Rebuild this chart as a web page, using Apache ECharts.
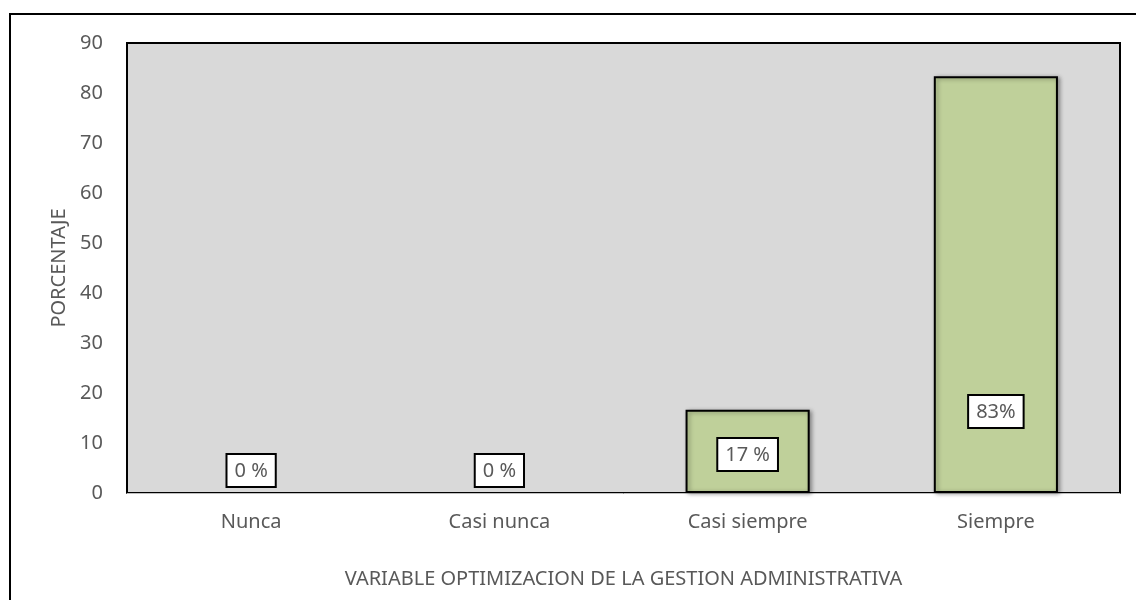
<!DOCTYPE html>
<html>
<head>
<meta charset="utf-8">
<script src="https://cdn.jsdelivr.net/npm/echarts@6/dist/echarts.min.js"></script>
<style>
  html, body { margin: 0; padding: 0; background: #fff; }
  #chart { width: 1136px; height: 600px; }
</style>
</head>
<body>
<div id="chart"></div>
<script>
// categorias y valores (porcentaje)
var categorias = ['Nunca', 'Casi nunca', 'Casi siempre', 'Siempre'];
var valores = [0, 0, 16.67, 83.33];
var etiquetas = ['0 %', '0 %', '17 %', '83%'];
var yTicks = [0, 10, 20, 30, 40, 50, 60, 70, 80, 90];

var fuente = 'Noto Sans';
var gris = '#595959';
var tam = 20;
// distancia de la etiqueta desde la base de la barra
var distEtiqueta = [7, 7, 23, 66];

var myChart = echarts.init(document.getElementById('chart'), null, { renderer: 'canvas' });

var option = {
  animation: false,
  textStyle: { fontFamily: fuente },
  // borde exterior (solo izquierda y arriba)
  graphic: [{
    type: 'polyline',
    shape: { points: [[10, 600], [10, 14], [1136, 14]] },
    style: { stroke: '#000', lineWidth: 2, fill: null }
  }],
  grid: {
    left: 127,
    right: 16,
    top: 43,
    bottom: 107,
    show: true,
    backgroundColor: '#d9d9d9',
    borderColor: '#000',
    borderWidth: 2
  },
  xAxis: {
    type: 'category',
    data: categorias,
    name: 'VARIABLE OPTIMIZACION DE LA GESTION ADMINISTRATIVA',
    nameLocation: 'middle',
    nameGap: 76,
    nameTextStyle: { color: gris, fontSize: tam, fontFamily: fuente },
    axisLine: { lineStyle: { color: '#bfbfbf', width: 1 } },
    axisTick: { show: false },
    axisLabel: { color: gris, fontSize: tam, margin: 19, fontFamily: fuente }
  },
  yAxis: {
    type: 'value',
    min: yTicks[0],
    max: yTicks[yTicks.length - 1],
    interval: 10,
    name: 'PORCENTAJE',
    nameLocation: 'middle',
    nameGap: 58,
    nameTextStyle: { color: gris, fontSize: tam, fontFamily: fuente },
    splitLine: { show: false },
    axisLine: { show: true, lineStyle: { color: '#000', width: 2 } },
    axisTick: { show: false },
    axisLabel: { color: gris, fontSize: tam, margin: 24, fontFamily: fuente }
  },
  series: [{
    type: 'bar',
    barWidth: '50%',
    data: valores.map(function (v, i) {
      return {
        value: v,
        itemStyle: v === 0 ? { borderWidth: 0, shadowBlur: 0, shadowOffsetX: 0, shadowOffsetY: 0 } : undefined,
        label: {
          show: true,
          position: 'insideBottom',
          distance: distEtiqueta[i],
          formatter: etiquetas[i]
        }
      };
    }),
    itemStyle: {
      color: '#bfd09a',
      borderColor: '#000',
      borderWidth: 2,
      shadowColor: 'rgba(0,0,0,0.35)',
      shadowBlur: 4,
      shadowOffsetX: 2,
      shadowOffsetY: 1
    },
    label: {
      color: gris,
      fontSize: tam,
      fontFamily: fuente,
      backgroundColor: '#fff',
      borderColor: '#000',
      borderWidth: 2,
      padding: [6, 7, 5, 7]
    }
  }]
};

myChart.setOption(option);
</script>
</body>
</html>
